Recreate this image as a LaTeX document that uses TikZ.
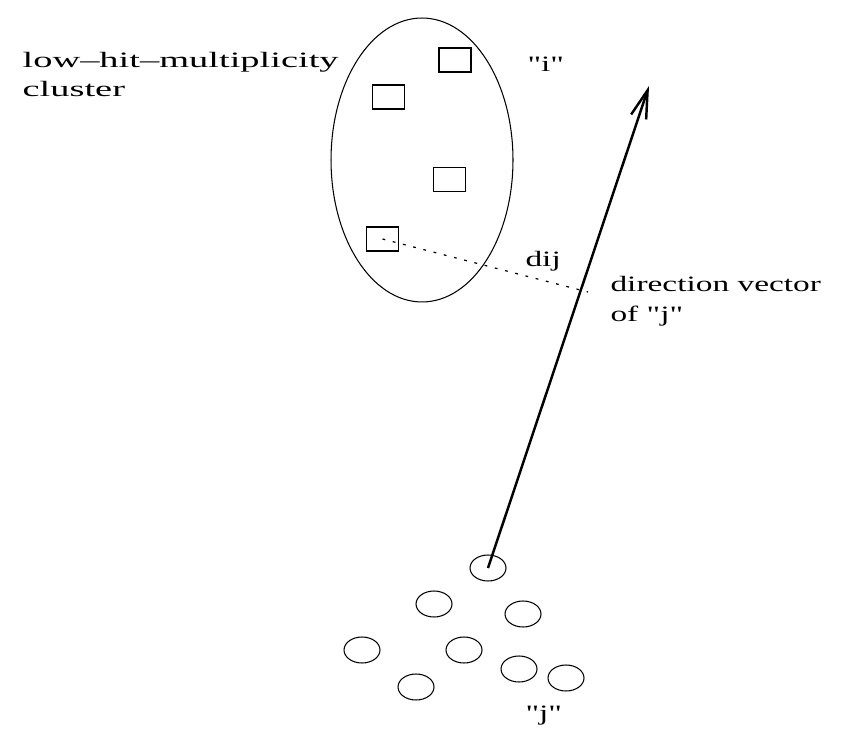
\documentclass[tikz,border=0pt]{standalone}
\usepackage{fontspec}
% plain family: no TeX ligature mapping, so " stays a straight quote
\newfontfamily\labelfont{Liberation Serif}
\usetikzlibrary{arrows.meta,shapes.geometric}
\begin{document}
\begin{tikzpicture}[x=0.02cm,y=-0.02cm,
  hit/.style={draw,line width=0.8pt,minimum width=0.64cm,minimum height=0.48cm,inner sep=0pt},
  track/.style={draw,ellipse,line width=0.6pt,minimum width=0.72cm,minimum height=0.52cm,inner sep=0pt},
  lbl/.style={inner sep=0pt,anchor=base west,font=\labelfont\fontsize{12.5}{17}\selectfont,xscale=1.52,align=left},
  vec/.style={line width=1.4pt,-{Straight Barb[length=16pt,width=9pt]}},
  dist/.style={line width=0.7pt,dash pattern=on 1.6pt off 4.4pt},
]
\useasboundingbox (0,0) rectangle (848,736);
% the cluster and its hits
\node[draw,ellipse,line width=0.6pt,minimum width=3.64cm,minimum height=5.68cm,inner sep=0pt] (cluster) at (422,160) {};
\node[hit] (h1) at (455,60) {};
\node[hit] (h2) at (388.5,97) {};
\node[hit] (h3) at (449.5,179.5) {};
\node[hit] (h4) at (382.5,239) {};
% the track hits
\node[track] (c1) at (488,568) {};
\node[track] (c2) at (434,604) {};
\node[track] (c3) at (523,614) {};
\node[track] (c4) at (362,650) {};
\node[track] (c5) at (464,650) {};
\node[track] (c6) at (519,669) {};
\node[track] (c7) at (566,678) {};
\node[track] (c8) at (416,687) {};
% direction vector and distance
\coordinate (tip) at (649,86);
\coordinate (foot) at (588,292);
\draw[vec] (c1.center) -- (tip);
\draw[dist] (h4.center) -- (foot);
% labels
\node[lbl,xscale=1.75/1.52] (lowhit) at (22,97) {low–hit–multiplicity\\cluster};
\node[lbl] (ilabel) at (527,72) {"i"};
\node[lbl] (dij) at (525,267) {dij};
\node[lbl] (dirlabel) at (610,321) {direction vector\\of "j"};
\node[lbl] (jlabel) at (525,720) {"j"};
\end{tikzpicture}
\end{document}
